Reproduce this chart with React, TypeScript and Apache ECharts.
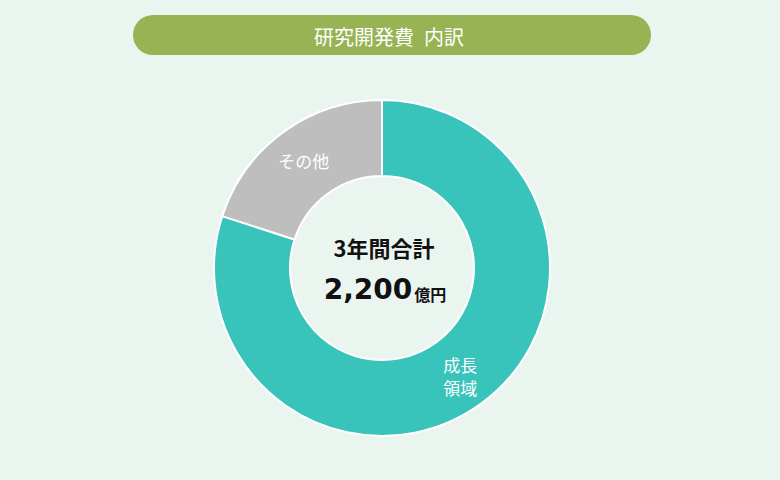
import React, { useEffect, useRef } from "react";
import * as echarts from "echarts";

const categories = ["成長\n領域", "その他"];
const values = [1760, 440];
const colors = ["#38C3BB", "#BEBEBE"];
const titleText = "研究開発費\u2002内訳";
const centerTitle = "3年間合計";
const totalText = "2,200";
const unitText = "億円";

export default function App() {
  const ref = useRef<HTMLDivElement>(null);
  useEffect(() => {
    if (!ref.current) return;
    const chart = echarts.init(ref.current, null, { renderer: "svg" });
    const font = "'Noto Sans CJK JP', 'Noto Sans', sans-serif";
    chart.setOption({
      animation: false,
      backgroundColor: "#EAF5F0",
      textStyle: { fontFamily: font },
      graphic: [
        {
          type: "rect",
          shape: { x: 133, y: 15, width: 518, height: 40, r: 20 },
          style: { fill: "#97B353" },
        },
        {
          type: "text",
          x: 389,
          y: 36,
          style: {
            text: titleText,
            fill: "#ffffff",
            font: `normal 20px ${font}`,
            align: "center",
            verticalAlign: "middle",
          },
        },
        {
          type: "text",
          x: 384,
          y: 247,
          style: {
            text: centerTitle,
            fill: "#111111",
            font: `bold 22px ${font}`,
            align: "center",
            verticalAlign: "middle",
          },
        },
        {
          type: "text",
          x: 385,
          y: 289,
          style: {
            text: `{a|${totalText}}{b|${unitText}}`,
            align: "center",
            verticalAlign: "middle",
            rich: {
              a: { fontSize: 28, fontWeight: "bold", fill: "#111111", fontFamily: "'DejaVu Sans', sans-serif", lineHeight: 34 },
              b: { fontSize: 16, fontWeight: "bold", fill: "#111111", fontFamily: font, padding: [9, 0, 0, 2], lineHeight: 34 },
            },
          },
        },
      ],
      series: [
        {
          type: "pie",
          center: [382, 268],
          radius: [92, 168],
          startAngle: 90,
          clockwise: true,
          silent: true,
          itemStyle: { borderColor: "#ffffff", borderWidth: 2 },
          label: {
            show: true,
            position: "inside",
            color: "#ffffff",
            fontSize: 17,
            lineHeight: 23,
            fontFamily: font,
            formatter: "{b}",
          },
          labelLine: { show: false },
          data: categories.map((c, i) => ({
            name: c,
            value: values[i],
            itemStyle: { color: colors[i] },
          })),
        },
      ],
    });
    return () => chart.dispose();
  }, []);
  return (
    <div
      ref={ref}
      style={{ position: "absolute", left: 0, top: 0, width: 780, height: 480 }}
    />
  );
}
